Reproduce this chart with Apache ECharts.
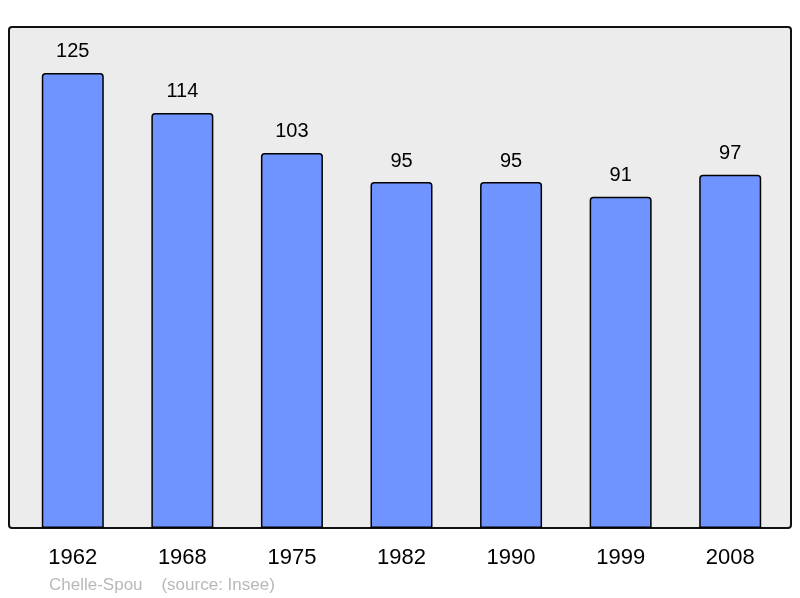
<!DOCTYPE html>
<html>
<head>
<meta charset="utf-8">
<script src="https://cdn.jsdelivr.net/npm/echarts@6/dist/echarts.min.js"></script>
<style>
    html, body {margin:0;padding:0;background:#ffffff;}
    #chart {width:800px;height:598px;}
</style>
</head>
<body>
<div id="chart"></div>
<script>
    // population data
    var years = ['1962', '1968', '1975', '1982', '1990', '1999', '2008'];
    var population = [125, 114, 103, 95, 95, 91, 97];
    var footerText = 'Chelle-Spou    (source: Insee)';

    var chart = echarts.init(document.getElementById('chart'), null, {renderer: 'canvas'});

    var option = {
        animation: false,
        backgroundColor: '#ffffff',
        graphic: [
            {
                type: 'rect',
                z: -10,
                shape: {x: 9, y: 27, width: 782, height: 501, r: 3},
                style: {fill: '#ececec', stroke: '#111111', lineWidth: 2}
            },
            {
                type: 'text',
                left: 49,
                top: 577,
                style: {
                    text: footerText,
                    fill: '#b8b8b8',
                    font: '17px "Liberation Sans", Arial, sans-serif'
                }
            }
        ],
        grid: {
            left: 18,
            right: 15,
            top: 27,
            bottom: 70
        },
        xAxis: {
            type: 'category',
            data: years,
            axisLine: {show: false},
            axisTick: {show: false},
            axisLabel: {
                color: '#000000',
                fontSize: 22,
                fontFamily: '"Liberation Sans", Arial, sans-serif',
                margin: 19
            }
        },
        yAxis: {
            type: 'value',
            min: 0,
            max: 137.6,
            show: false,
            splitLine: {show: false}
        },
        series: [
            {
                type: 'bar',
                data: population,
                barWidth: 62,
                itemStyle: {
                    color: '#7094ff',
                    borderColor: '#000000',
                    borderWidth: 1.5,
                    borderRadius: [3, 3, 0, 0]
                },
                label: {
                    show: true,
                    position: 'top',
                    distance: 11,
                    color: '#000000',
                    fontSize: 20,
                    fontFamily: '"Liberation Sans", Arial, sans-serif'
                }
            }
        ]
    };

    chart.setOption(option);
</script>
</body>
</html>
